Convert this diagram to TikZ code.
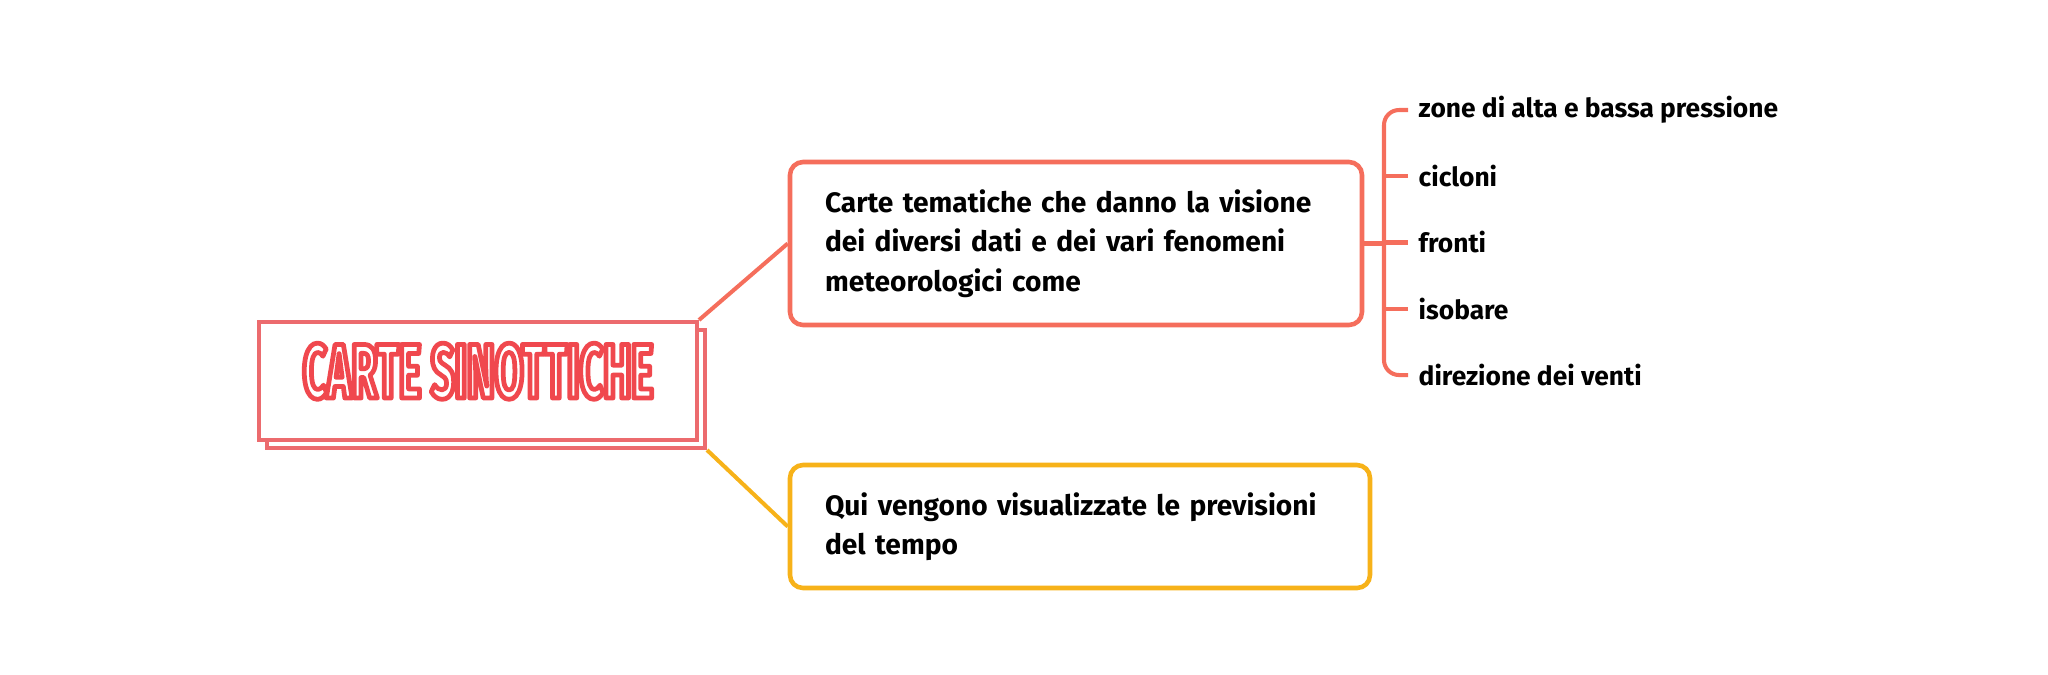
\documentclass[tikz,border=0pt]{standalone}
\usepackage{fontspec}
\setmainfont{Fira Sans}
\newfontfamily\titlefont[FakeStretch=0.54]{Fira Sans}
\usetikzlibrary{positioning}

\definecolor{mainred}{HTML}{EC6B6E}
\definecolor{titlered}{HTML}{F0484E}
\definecolor{coral}{HTML}{F56E5C}
\definecolor{amber}{HTML}{F7B219}

% white letters with a red outline
\newcommand{\outlined}[1]{\textcolor{white}{\special{pdf:literal direct 0.941 0.282 0.306 RG 1.35 w 1 j 2 Tr}#1\special{pdf:literal direct 0 Tr}}}

\begin{document}
\begin{tikzpicture}
		\tikzstyle{mainbox}=[rectangle, draw=mainred, fill=white, line width=1.15pt, minimum width=4.38cm, minimum height=1.18cm]
		\tikzstyle{topic}=[rectangle, rounded corners=0.13cm, fill=white, line width=1.3pt, align=left, inner xsep=0.35cm, text width=5.02cm, font=\bfseries\fontsize{8}{11.2}\selectfont]
		\tikzstyle{item}=[anchor=west, inner xsep=0.1cm, font=\bfseries\fontsize{7.5}{8}\selectfont]
		
		\useasboundingbox (0,0) rectangle (20.48,-6.74);
		
		% Root
		\node[mainbox] at (4.86,-3.89) (shadow) {};
		\node[mainbox, text height=0.48cm, text depth=0.14cm, font=\titlefont\bfseries\fontsize{22}{22}\selectfont] at (4.78,-3.81) (main) {\outlined{CARTE SINOTTICHE}};
		
		% Topics
		\node[topic, draw=coral, minimum height=1.63cm] at (10.76,-2.435) (topic_1) {Carte tematiche che danno la visione\\dei diversi dati e dei vari fenomeni\\meteorologici come};
		\node[topic, draw=amber, minimum height=1.23cm, text width=5.10cm] at (10.80,-5.265) (topic_2) {Qui vengono visualizzate le previsioni\\del tempo};
		
		\draw[coral, line width=1.15pt] (main.north east) -- (topic_1.west);
		\draw[amber, line width=1.15pt] (shadow.south east) -- (topic_2.west);
		
		% Items
		\coordinate (fork) at (13.84,-2.435);
		\foreach \t [count=\i] in {zone di alta e bassa pressione, cicloni, fronti, isobare, direzione dei venti}
		\node[item] at (14.08, -1.10-\i*0.6625+0.6625) (item_\i) {\t};
		
		\draw[coral, line width=1.15pt] (topic_1.east) -- (fork);
		\draw[coral, line width=1.15pt, rounded corners=0.15cm] (item_1.west) -| (fork) |- (item_5.west);
		\foreach \i in {2,...,4}
		\draw[coral, line width=1.15pt] (fork |- item_\i.west) -- (item_\i.west);
		
\end{tikzpicture}
\end{document}
